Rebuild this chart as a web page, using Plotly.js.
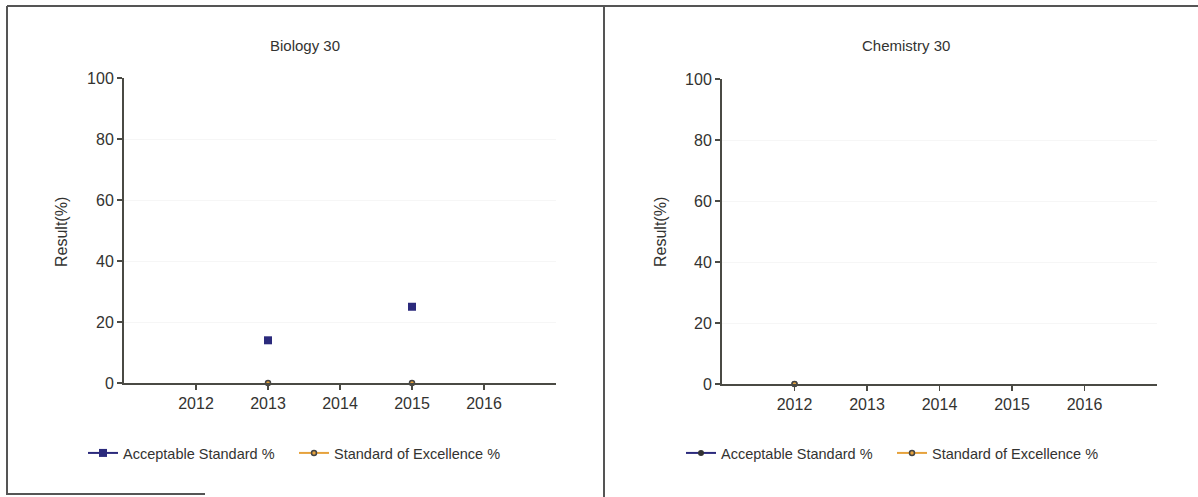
<!DOCTYPE html>
<html>
<head>
<meta charset="utf-8">
<script src="https://cdn.plot.ly/plotly-3.0.1.min.js"></script>
<style>html,body{margin:0;padding:0;background:#fff;}#chart{width:1198px;height:497px;}</style>
</head>
<body>
<div id="chart"></div>
<script>
const years = [2012, 2013, 2014, 2015, 2016];
const tickLabels = ['2012', '2013', '2014', '2015', '2016'];
const bioAcceptable = [null, 14, null, 25, null];
const bioExcellence = [null, 0, null, 0, null];
const chemAcceptable = [0, null, null, null, null];
const chemExcellence = [0, null, null, null, null];
const seriesNames = ['Acceptable Standard %', 'Standard of Excellence %'];
const panelTitles = ['Biology 30', 'Chemistry 30'];

const W = 1198, H = 497;
const px = v => v / W, py = v => 1 - v / H;
const navy = '#2b2a7c', orange = '#e6a23c', axisCol = '#4a4a44';
const fam = 'Liberation Sans, Arial, sans-serif';
const txtCol = '#333331';
const tickFont = {family: fam, size: 16, color: txtCol};

function tr(y, name, color, sym, size, xa, ya, legend) {
  return {
    x: years, y: y, name: name, type: 'scatter', mode: 'lines+markers',
    xaxis: xa, yaxis: ya, legend: legend, cliponaxis: false, connectgaps: false,
    line: {color: color, width: 2},
    marker: {color: color, symbol: sym, size: size, line: {color: sym === 'circle' ? '#444' : color, width: sym === 'circle' ? 1.5 : 0}}
  };
}

const data = [
  tr(bioAcceptable, seriesNames[0], navy, 'square', 8, 'x', 'y', 'legend'),
  tr(bioExcellence, seriesNames[1], orange, 'circle', 5, 'x', 'y', 'legend'),
  tr(chemAcceptable, seriesNames[0], navy, 'square', 8, 'x2', 'y2', 'legend2'),
  tr(chemExcellence, seriesNames[1], orange, 'circle', 5, 'x2', 'y2', 'legend2')
];
data[2].marker = {color: '#333', symbol: 'circle', size: 6};

function xax(d, anchor) {
  return {domain: d, anchor: anchor, range: [2011, 2017], tickvals: years, ticktext: tickLabels,
    showline: true, linecolor: axisCol, linewidth: 2, ticks: 'outside', ticklen: 5, tickcolor: axisCol, tickwidth: 1.5,
    showgrid: false, zeroline: false, tickfont: tickFont, fixedrange: true};
}
function yax(d, anchor) {
  return {domain: d, anchor: anchor, range: [0, 100], tickvals: [0, 20, 40, 60, 80, 100],
    showline: true, linecolor: axisCol, linewidth: 2, ticks: 'outside', ticklen: 5, tickcolor: axisCol, tickwidth: 1.5,
    showgrid: true, gridcolor: '#f6f6f6', gridwidth: 1, zeroline: false, tickfont: tickFont, fixedrange: true};
}

const legendBase = {orientation: 'h', xanchor: 'left', yanchor: 'middle', font: {family: fam, size: 14.5, color: txtCol},
  bgcolor: 'rgba(0,0,0,0)', entrywidth: 166, entrywidthmode: 'pixels', itemwidth: 30};

const titleFont = {family: fam, size: 15, color: txtCol};
const ytFont = {family: fam, size: 16, color: txtCol};
const layout = {
  width: W, height: H, margin: {l: 0, r: 0, t: 0, b: 0},
  paper_bgcolor: '#fff', plot_bgcolor: '#fff', font: tickFont,
  xaxis: xax([px(124), px(556)], 'y'),
  yaxis: yax([py(383), py(78)], 'x'),
  xaxis2: xax([px(722), px(1157)], 'y2'),
  yaxis2: yax([py(384), py(79)], 'x2'),
  legend: Object.assign({x: px(83), y: py(453)}, legendBase),
  legend2: Object.assign({x: px(681), y: py(453)}, legendBase),
  annotations: [
    {text: panelTitles[0], x: px(305), y: py(46), xref: 'paper', yref: 'paper', xanchor: 'center', yanchor: 'middle', showarrow: false, font: titleFont},
    {text: panelTitles[1], x: px(906), y: py(46), xref: 'paper', yref: 'paper', xanchor: 'center', yanchor: 'middle', showarrow: false, font: titleFont},
    {text: 'Result(%)', x: px(62), y: py(232), xref: 'paper', yref: 'paper', xanchor: 'center', yanchor: 'middle', showarrow: false, textangle: -90, font: ytFont},
    {text: 'Result(%)', x: px(661), y: py(232), xref: 'paper', yref: 'paper', xanchor: 'center', yanchor: 'middle', showarrow: false, textangle: -90, font: ytFont}
  ],
  shapes: [
    {type: 'line', xref: 'paper', yref: 'paper', x0: px(7), x1: 1, y0: py(6), y1: py(6), line: {color: '#555', width: 2}},
    {type: 'line', xref: 'paper', yref: 'paper', x0: px(7), x1: px(7), y0: py(6), y1: py(495), line: {color: '#555', width: 2}},
    {type: 'line', xref: 'paper', yref: 'paper', x0: px(604), x1: px(604), y0: py(6), y1: py(497), line: {color: '#555', width: 2}},
    {type: 'line', xref: 'paper', yref: 'paper', x0: px(7), x1: px(205), y0: py(494), y1: py(494), line: {color: '#555', width: 2}}
  ]
};

Plotly.newPlot('chart', data, layout, {staticPlot: true, displayModeBar: false});
</script>
</body>
</html>
